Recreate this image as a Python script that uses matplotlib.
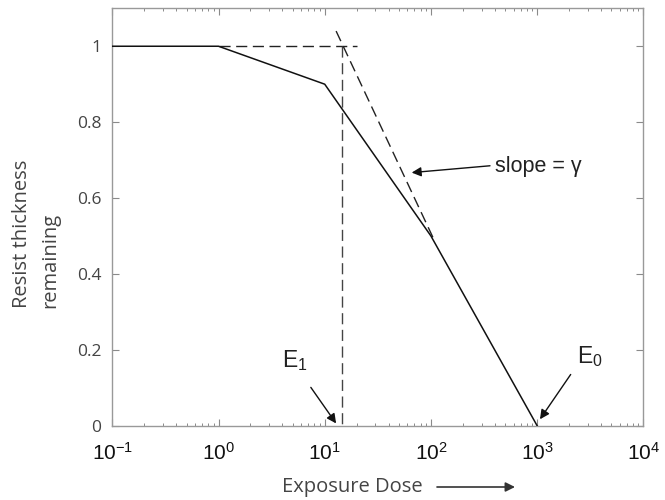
import numpy as np
import matplotlib
matplotlib.use("Agg")
import matplotlib.pyplot as plt

plt.rcParams["font.family"] = ["Liberation Sans", "DejaVu Sans"]
plt.rcParams["mathtext.fontset"] = "custom"
plt.rcParams["mathtext.rm"] = "Liberation Sans"
plt.rcParams["mathtext.it"] = "Liberation Sans:italic"

# contrast curve (solid)
dose = [0.1, 1, 10, 100, 1000]
thickness = [1.0, 1.0, 0.9, 0.5, 0.0]

# construction lines (dashed)
e1_dose = 14.5
top_dose = [1, 20]
top_level = [1.0, 1.0]
e1_level = [1.0, 0.0]
tangent_dose = [12.8, 107]
tangent_level = [1.04, 0.49]

xticks = [0.1, 1, 10, 100, 1000, 10000]
xtick_labels = [r"$\mathregular{10^{-1}}$", r"$\mathregular{10^{0}}$", r"$\mathregular{10^{1}}$",
                r"$\mathregular{10^{2}}$", r"$\mathregular{10^{3}}$", r"$\mathregular{10^{4}}$"]
yticks = [0, 0.2, 0.4, 0.6, 0.8, 1]
ytick_labels = ["0", "0.2", "0.4", "0.6", "0.8", "1"]

# annotations: (text pos, arrow tail, arrow tip)
slope_txt = (402, 0.669)
slope_tail, slope_tip = (360, 0.685), (65.9, 0.667)
e1_txt = (3.94, 0.155)
e1_tail, e1_tip = (7.4, 0.101), (12.8, 0.006)
e0_txt = (2390, 0.165)
e0_tail, e0_tip = (2070, 0.135), (1064, 0.017)

fig = plt.figure(figsize=(6.65, 5.0), dpi=100)
ax = fig.add_axes([0.1689, 0.1486, 0.7985, 0.8348])

ax.plot(dose, thickness, color="#111111", lw=1.1, zorder=3)
dash = (8, 4)
ax.plot(top_dose, top_level, color="#222222", lw=1.0, dashes=dash)
ax.plot([e1_dose, e1_dose], e1_level, color="#444444", lw=1.0, dashes=dash)
ax.plot(tangent_dose, tangent_level, color="#222222", lw=1.0, dashes=dash)

ax.set_xscale("log")
ax.set_xlim(0.1, 1e4)
ax.set_ylim(0, 1.1)
ax.set_xticks(xticks, xtick_labels, fontsize=15, color="#111111")
ax.set_yticks(yticks, ytick_labels, fontfamily="Open Sans", fontsize=12.5, color="#444444")

for s in ax.spines.values():
    s.set_color("#999999")
    s.set_linewidth(1.0)
ax.tick_params(which="both", direction="in", top=True, right=True, color="#8a8a8a")
ax.tick_params(which="major", length=5, width=0.8)
ax.tick_params(which="minor", length=2.5, width=0.7)
ax.tick_params(axis="x", which="major", pad=12)
ax.tick_params(axis="y", which="major", pad=8)

arrow = dict(arrowstyle="-|>", color="#111111", lw=1.0, mutation_scale=14, shrinkA=0, shrinkB=0)
ax.annotate("", xy=slope_tip, xytext=slope_tail, arrowprops=arrow)
ax.annotate("", xy=e1_tip, xytext=e1_tail, arrowprops=arrow)
ax.annotate("", xy=e0_tip, xytext=e0_tail, arrowprops=arrow)
ax.text(*slope_txt, "slope = γ", fontsize=15.5, color="#222222", va="baseline", ha="left")
ax.text(*e1_txt, r"E$_\mathregular{1}$", fontsize=16.5, color="#222222", va="baseline", ha="left")
ax.text(*e0_txt, r"E$_\mathregular{0}$", fontsize=16.5, color="#222222", va="baseline", ha="left")

# axis labels (Myriad-like grey text)
fig.text(0.054, 0.533, "Resist thickness\nremaining", rotation=90, ha="center", va="center",
         multialignment="left", fontfamily="Open Sans", fontsize=14.5, color="#444444",
         linespacing=1.55)
fig.text(282 / 665, 1 - 487 / 500, "Exposure Dose", ha="left", va="center",
         fontfamily="Open Sans", fontsize=14.5, color="#444444")
fig.patches.append(matplotlib.patches.FancyArrowPatch(
    (437 / 665, 1 - 487 / 500), (515 / 665, 1 - 487 / 500), transform=fig.transFigure,
    arrowstyle="-|>", mutation_scale=14, color="#333333", lw=1.2, shrinkA=0, shrinkB=0))

fig.savefig("out.png", dpi=100)
